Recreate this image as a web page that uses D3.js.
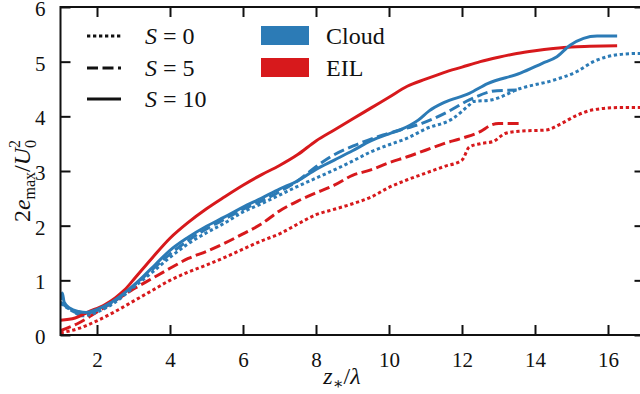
<!DOCTYPE html>
<html>
<head>
<meta charset="utf-8">
<script src="https://cdn.jsdelivr.net/npm/d3@7"></script>
<style>
  html, body { margin: 0; padding: 0; background: #fff; }
  svg { display: block; }
  text { font-family: "Liberation Serif", "DejaVu Serif", serif; fill: #111; }
</style>
</head>
<body>
<svg id="chart" width="640" height="394"></svg>
<script>
// Growth of the maximum kinetic energy, 2 e_max / U0^2, against z*/lambda
const xTicks = [2, 4, 6, 8, 10, 12, 14, 16];
const yTicks = [0, 1, 2, 3, 4, 5, 6];

// Cloud, S = 10
const cloudS10 = [[1,0.64],[1.05,0.77],[1.1,0.6],[1.26,0.49],[1.5,0.43],[1.7,0.41],[2,0.47],[2.4,0.6],[2.85,0.82],[3.25,1.06],[3.6,1.29],[4,1.55],[4.5,1.79],[5,1.99],[5.5,2.16],[6,2.34],[6.5,2.5],[7,2.67],[7.5,2.82],[8,3.03],[8.5,3.2],[9,3.37],[9.5,3.55],[10,3.68],[10.3,3.75],[10.8,3.93],[11.1,4.1],[11.5,4.25],[12.2,4.42],[12.7,4.6],[13.6,4.79],[14.2,4.97],[14.6,5.09],[14.96,5.3],[15.7,5.47],[16.25,5.47]];
// Cloud, S = 5
const cloudS5 = [[1,0.6],[1.1,0.55],[1.3,0.45],[1.6,0.38],[2,0.45],[2.5,0.63],[3,0.9],[3.5,1.19],[4,1.48],[4.5,1.73],[5,1.94],[5.5,2.12],[6,2.3],[6.5,2.45],[7,2.62],[7.5,2.82],[8,3.08],[8.4,3.26],[9.1,3.48],[9.84,3.66],[10.3,3.75],[10.9,3.87],[11.6,4.08],[12.2,4.3],[12.96,4.47],[13.5,4.48]];
// Cloud, S = 0
const cloudS0 = [[1,0.58],[1.3,0.45],[1.6,0.35],[2,0.42],[2.5,0.6],[3,0.87],[3.5,1.14],[4,1.42],[4.5,1.67],[5,1.87],[5.5,2.05],[6,2.25],[6.5,2.4],[7,2.56],[7.5,2.72],[8,2.87],[8.5,3.02],[9,3.18],[9.5,3.35],[10,3.48],[10.5,3.6],[11,3.77],[11.75,3.96],[12.2,4.21],[12.3,4.27],[12.8,4.3],[13.6,4.51],[14.5,4.66],[15.15,4.82],[15.6,5.0],[16.3,5.13],[16.8,5.15],[17,5.15]];
// EIL, S = 10
const eilS10 = [[1,0.27],[1.4,0.31],[1.75,0.42],[2.2,0.55],[2.5,0.68],[2.75,0.82],[3,1.01],[3.5,1.4],[4,1.77],[4.5,2.06],[5,2.31],[5.5,2.53],[6,2.74],[6.5,2.93],[7,3.1],[7.5,3.3],[8,3.55],[8.5,3.75],[9,3.95],[9.5,4.15],[10,4.35],[10.5,4.55],[11,4.68],[11.5,4.8],[12,4.9],[12.5,5.0],[13,5.08],[13.5,5.15],[14,5.2],[14.5,5.24],[15,5.27],[15.5,5.28],[16.25,5.29]];
// EIL, S = 5
const eilS5 = [[1,0.08],[1.5,0.22],[2,0.42],[2.5,0.63],[3,0.84],[3.5,1.03],[4,1.22],[4.5,1.4],[5,1.53],[5.5,1.68],[6,1.85],[6.5,2.03],[7,2.27],[7.5,2.45],[8,2.6],[8.5,2.74],[9,2.92],[9.5,3.02],[10,3.15],[10.5,3.26],[11,3.38],[11.5,3.5],[12,3.6],[12.5,3.72],[12.8,3.84],[13,3.87],[13.6,3.87]];
// EIL, S = 0
const eilS0 = [[1,0.04],[1.5,0.12],[2,0.26],[2.5,0.43],[3,0.62],[3.5,0.81],[4,1.0],[4.5,1.15],[5,1.28],[5.5,1.42],[6,1.57],[6.5,1.72],[7,1.85],[7.5,2.03],[8,2.2],[8.5,2.3],[9,2.4],[9.5,2.52],[10,2.7],[10.5,2.84],[11,2.96],[11.5,3.08],[12,3.2],[12.2,3.44],[12.5,3.5],[12.85,3.54],[13.2,3.69],[13.6,3.73],[14.3,3.75],[14.7,3.86],[15.15,4.02],[15.6,4.12],[16.3,4.16],[17,4.16]];

const colors = { cloud: "#2c7bb6", eil: "#d7191c" };
const dashes = { s0: "3.3,2.7", s5: "11,4.5", s10: null };

const series = [
  { data: eilS0,    color: colors.eil,   dash: dashes.s0 },
  { data: eilS5,    color: colors.eil,   dash: dashes.s5 },
  { data: cloudS0,  color: colors.cloud, dash: dashes.s0 },
  { data: cloudS5,  color: colors.cloud, dash: dashes.s5 },
  { data: eilS10,   color: colors.eil,   dash: dashes.s10 },
  { data: cloudS10, color: colors.cloud, dash: dashes.s10 }
];

const svg = d3.select("#chart");
const plotL = 60.5, plotR = 644.5, plotT = 7, plotB = 335;

const x = d3.scaleLinear().domain([1, 17]).range([plotL, plotR]);
const y = d3.scaleLinear().domain([0, 6]).range([plotB, plotT]);

svg.append("defs").append("clipPath").attr("id", "plot")
  .append("rect").attr("x", plotL).attr("y", plotT)
  .attr("width", plotR - plotL).attr("height", plotB - plotT);

const line = d3.line().x(d => x(d[0])).y(d => y(d[1])).curve(d3.curveMonotoneX);

const g = svg.append("g").attr("clip-path", "url(#plot)");
series.forEach(s => {
  g.append("path")
    .attr("d", line(s.data))
    .attr("fill", "none")
    .attr("stroke", s.color)
    .attr("stroke-width", 3)
    .attr("stroke-linejoin", "round")
    .attr("stroke-dasharray", s.dash);
});

// Axes with inward ticks on all four sides
const tickLen = 10;
function styleAxis(sel) {
  sel.select(".domain").remove();
  sel.selectAll(".tick line").attr("stroke", "#111").attr("stroke-width", 2);
  sel.selectAll(".tick text").attr("font-size", 21).attr("fill", "#111")
    .style("font-family", "'Liberation Serif', serif");
}
svg.append("g").attr("transform", `translate(0,${plotB})`)
  .call(d3.axisBottom(x).tickValues(xTicks).tickSizeInner(-tickLen).tickPadding(tickLen + 7).tickFormat(d3.format("d")))
  .call(styleAxis);
svg.append("g").attr("transform", `translate(0,${plotT})`)
  .call(d3.axisTop(x).tickValues(xTicks).tickSizeInner(-tickLen).tickFormat(""))
  .call(styleAxis);
svg.append("g").attr("transform", `translate(${plotL},0)`)
  .call(d3.axisLeft(y).tickValues(yTicks).tickSizeInner(-tickLen).tickPadding(tickLen + 5).tickFormat(d3.format("d")))
  .call(styleAxis)
  .call(a => a.selectAll(".tick text").attr("dy", "0.4em"));
svg.append("g").attr("transform", `translate(${plotR},0)`)
  .call(d3.axisRight(y).tickValues(yTicks).tickSizeInner(-tickLen).tickFormat(""))
  .call(styleAxis);

// Frame
svg.append("rect").attr("x", plotL).attr("y", plotT)
  .attr("width", plotR - plotL).attr("height", plotB - plotT)
  .attr("fill", "none").attr("stroke", "#111").attr("stroke-width", 2);

// Axis titles
const xt = svg.append("text").attr("x", 342).attr("y", 384)
  .attr("text-anchor", "middle").attr("font-size", 24);
xt.append("tspan").attr("font-style", "italic").text("z");
xt.append("tspan").attr("font-size", 16).attr("dy", 5).text("∗");
xt.append("tspan").attr("dy", -5).text("/");
xt.append("tspan").attr("font-style", "italic").text("λ");

const yt = svg.append("text").attr("transform", "translate(30,181) rotate(-90)")
  .attr("text-anchor", "middle").attr("font-size", 24);
yt.append("tspan").text("2");
yt.append("tspan").attr("font-style", "italic").text("e");
yt.append("tspan").attr("font-size", 16).attr("dy", 5).text("max");
yt.append("tspan").attr("dy", -5).text("/");
yt.append("tspan").attr("font-style", "italic").text("U");
yt.append("tspan").attr("font-size", 16).attr("dy", -10).text("2");
yt.append("tspan").attr("font-size", 16).attr("dx", -8).attr("dy", 16).text("0");

// Legend: line styles
const styleLegend = [
  { label: "0", dash: dashes.s0, y: 36 },
  { label: "5", dash: dashes.s5, y: 68 },
  { label: "10", dash: dashes.s10, y: 99 }
];
styleLegend.forEach(d => {
  svg.append("line").attr("x1", 87).attr("x2", 121).attr("y1", d.y).attr("y2", d.y)
    .attr("stroke", "#111").attr("stroke-width", 3).attr("stroke-dasharray", d.dash);
  const t = svg.append("text").attr("x", 145).attr("y", d.y + 8).attr("font-size", 24);
  t.append("tspan").attr("font-style", "italic").text("S");
  t.append("tspan").attr("dx", 6).text("=");
  t.append("tspan").attr("dx", 6).text(d.label);
});

// Legend: colour patches
const colorLegend = [
  { label: "Cloud", color: colors.cloud, y: 26 },
  { label: "EIL", color: colors.eil, y: 58 }
];
colorLegend.forEach(d => {
  svg.append("rect").attr("x", 261).attr("y", d.y).attr("width", 48).attr("height", 19)
    .attr("fill", d.color);
  svg.append("text").attr("x", 326).attr("y", d.y + 18).attr("font-size", 24).text(d.label);
});
</script>
</body>
</html>
